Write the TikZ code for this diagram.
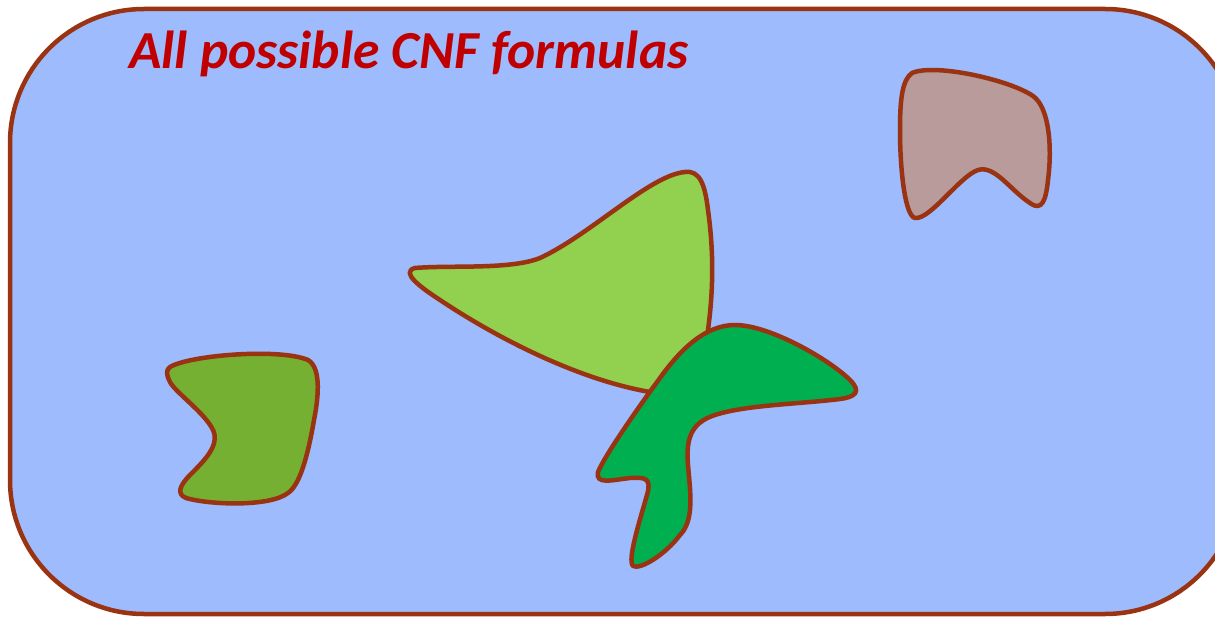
\documentclass[tikz,border=0pt]{standalone}
\usepackage{fontspec}
\setmainfont{Carlito}
\usepackage{tikz}

\definecolor{skyblue}{RGB}{157,187,253}
\definecolor{edgebrown}{RGB}{153,51,17}
\definecolor{titlered}{RGB}{192,0,0}
\definecolor{lightgreen}{RGB}{146,208,80}
\definecolor{darkgreen}{RGB}{0,176,80}
\definecolor{olivegreen}{RGB}{118,176,50}
\definecolor{dustypink}{RGB}{185,155,155}

\tikzset{region/.style={draw=edgebrown,line width=4.5pt,line join=round}}

\begin{document}
\begin{tikzpicture}[x=1pt,y=-1pt]

\useasboundingbox (0,0) rectangle (1215,617);
\clip (0,0) rectangle (1215,617);

% the set of all formulas
\draw[region,fill=skyblue,rounded corners=134pt] (10,9) rectangle (1239,614);
\node[titlered,anchor=base west,inner sep=0pt,font=\fontsize{53.5}{58}\selectfont\bfseries\itshape] (title) at (129,69) {All possible CNF formulas};

% olive patch
\draw[region,fill=olivegreen] (170,367) .. controls (190,355) and (280,348) .. (308,360)
  .. controls (322,368) and (318,400) .. (314,420) .. controls (308,455) and (300,485) .. (288,493)
  .. controls (270,507) and (210,505) .. (186,498) .. controls (176,494) and (180,485) .. (190,475)
  .. controls (205,460) and (220,445) .. (213,430) .. controls (205,413) and (175,392) .. (170,382)
  .. controls (166,374) and (166,370) .. (170,367) -- cycle;

% light green patch
\draw[region,fill=lightgreen] (415,268) .. controls (450,265) and (510,270) .. (540,258)
  .. controls (590,235) and (650,175) .. (685,172) .. controls (700,170) and (705,185) .. (708,210)
  .. controls (715,260) and (712,300) .. (708,330) -- (700,385) -- (650,392)
  .. controls (580,380) and (500,340) .. (440,300) .. controls (420,287) and (400,272) .. (415,268) -- cycle;

% dark green patch
\draw[region,fill=darkgreen] (735,325) .. controls (770,325) and (830,360) .. (850,380)
  .. controls (862,392) and (855,397) .. (840,399) .. controls (800,404) and (745,405) .. (715,415)
  .. controls (690,423) and (686,440) .. (688,465) .. controls (690,490) and (695,520) .. (680,535)
  .. controls (665,555) and (640,570) .. (633,566) .. controls (627,560) and (640,520) .. (647,495)
  .. controls (652,478) and (645,477) .. (630,478) .. controls (612,480) and (595,485) .. (598,472)
  .. controls (605,455) and (640,405) .. (660,378) .. controls (680,350) and (705,325) .. (735,325) -- cycle;

% pink patch
\draw[region,fill=dustypink] (912,73) .. controls (935,63) and (1010,80) .. (1033,96)
  .. controls (1050,108) and (1052,150) .. (1048,180) .. controls (1046,200) and (1042,212) .. (1030,203)
  .. controls (1010,190) and (995,165) .. (978,170) .. controls (960,176) and (930,220) .. (915,218)
  .. controls (905,216) and (900,170) .. (900,130) .. controls (900,100) and (902,80) .. (912,73) -- cycle;

\end{tikzpicture}
\end{document}
